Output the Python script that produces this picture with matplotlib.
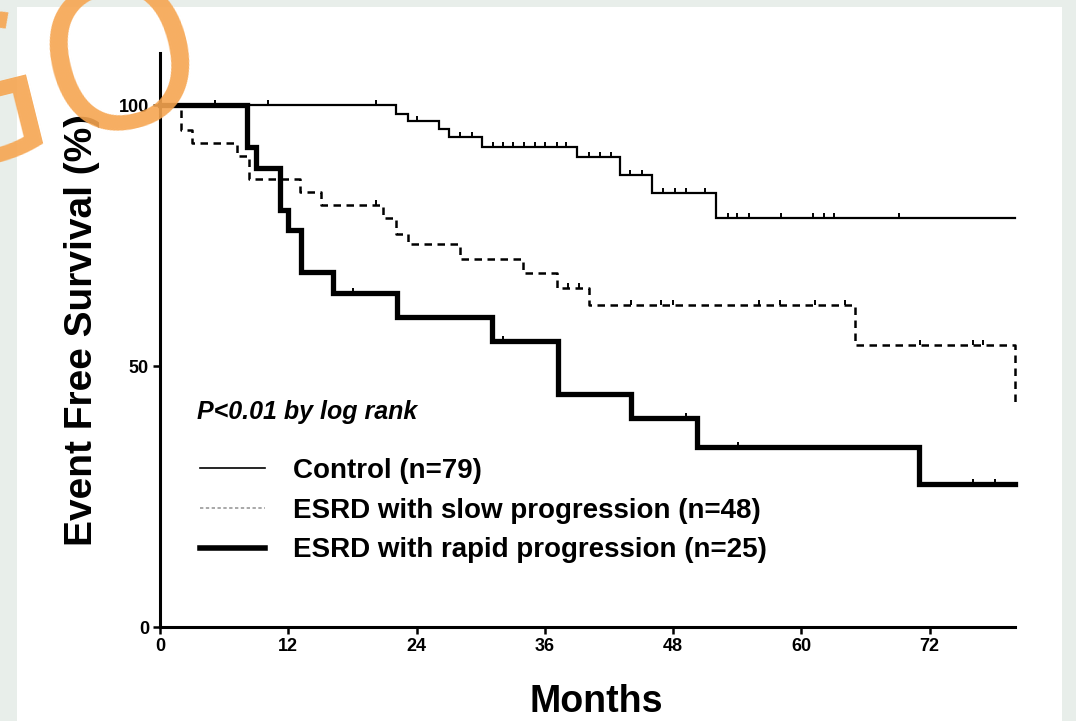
import numpy as np
import matplotlib.pyplot as plt
from matplotlib.lines import Line2D
from matplotlib.patches import Rectangle

# Kaplan-Meier steps (months, % event free)
control_t = [0, 22.1, 23.2, 26.1, 27.0, 30.1, 39.0, 43.0, 46.0, 52.0, 80.0]
control_s = [100, 98.4, 97.0, 95.5, 93.9, 92.0, 90.0, 86.6, 83.1, 78.4, 78.4]
control_cens = [5.1, 10.1, 20.2, 24.0, 28.1, 29.2, 31.2, 32.1, 33.0, 34.1, 35.1,
                36.0, 37.1, 38.0, 40.1, 41.2, 42.2, 44.0, 45.1, 47.1, 48.2, 49.2,
                51.0, 53.1, 54.0, 55.1, 58.1, 61.1, 62.1, 63.1, 69.1]

slow_t = [0, 2.0, 3.0, 7.2, 8.3, 13.1, 15.1, 20.9, 22.1, 23.2, 28.1, 34.0, 37.1, 40.1, 65.0, 80.0]
slow_s = [100, 95.2, 92.7, 90.2, 85.8, 83.4, 80.8, 78.4, 75.4, 73.4, 70.6, 67.8, 64.9, 61.7, 54.0, 42.2]
slow_cens = [20.2, 38.2, 39.2, 44.1, 46.9, 48.0, 56.0, 58.0, 61.3, 64.1, 71.1, 76.1, 77.0]

rapid_t = [0, 8.1, 9.0, 11.2, 12.0, 13.2, 16.2, 22.2, 31.1, 37.2, 44.1, 50.2, 71.0, 80.0]
rapid_s = [100, 92, 88, 80, 76, 68, 64, 59.4, 54.9, 44.6, 40.0, 34.5, 27.5, 27.5]
rapid_cens = [18.1, 32.1, 49.2, 54.1, 76.1, 78.1]

labels = ["Control (n=79)", "ESRD with slow progression (n=48)",
          "ESRD with rapid progression (n=25)"]
xticks = [0, 12, 24, 36, 48, 60, 72]
yticks = [0, 50, 100]

plt.rcParams['font.family'] = ['Liberation Sans', 'DejaVu Sans']

fig = plt.figure(figsize=(10.76, 7.21), dpi=100, facecolor='#e8eeea')
fig.patches.append(Rectangle((17 / 1076, 0), 1045 / 1076, 714 / 721,
                             transform=fig.transFigure, facecolor='white',
                             edgecolor='none', zorder=-1))
ax = fig.add_axes([160 / 1076, 1 - 627 / 721, 855 / 1076, 574 / 721])


def step_at(t, s, x):
    i = np.searchsorted(t, x, side='right') - 1
    return np.array(s)[i]


tick = [(0, 0), (0, 1)]
styles = [
    (control_t, control_s, control_cens, dict(lw=1.6, ls='-')),
    (slow_t, slow_s, slow_cens, dict(lw=1.8, ls=(0, (3, 2.2)))),
    (rapid_t, rapid_s, rapid_cens, dict(lw=3.8, ls='-')),
]
for t, s, c, st in styles:
    ax.plot(t, s, drawstyle='steps-post', color='black', clip_on=False,
            solid_joinstyle='miter', **st)
    ax.plot(c, step_at(t, s, c), ls='none', marker=tick, markersize=7,
            markeredgewidth=1.4, color='black', clip_on=False)

ax.set_xlim(0, 80)
ax.set_ylim(0, 110)
for side in ['top', 'right']:
    ax.spines[side].set_visible(False)
for side in ['left', 'bottom']:
    ax.spines[side].set_linewidth(2.2)
ax.set_xticks(xticks)
ax.set_yticks(yticks)
ax.tick_params(width=1.8, length=5, labelsize=13, pad=3)
for lab in ax.get_xticklabels() + ax.get_yticklabels():
    lab.set_fontweight('bold')

ax.set_ylabel("Event Free Survival (%)", fontsize=28, fontweight='bold')
ax.yaxis.set_label_coords(-0.070, 0.518)
ax.set_xlabel("Months", fontsize=27, fontweight='bold')
ax.xaxis.set_label_coords(0.51, -0.100)

ax.text(0.043, 0.375, "P<0.01 by log rank", transform=ax.transAxes,
        fontsize=18, fontweight='bold', style='italic', va='center')

handles = [Line2D([], [], color='black', lw=1.2),
           Line2D([], [], color='#999999', lw=1.2, ls=(0, (2, 1.5))),
           Line2D([], [], color='black', lw=4)]
ax.legend(handles, labels, loc='upper left', bbox_to_anchor=(0.047, 0.295),
          frameon=False, borderpad=0, borderaxespad=0, handlelength=2.35,
          handletextpad=1.0, labelspacing=0.5,
          prop=dict(size=20, weight='bold'))

fig.text(-0.082, 0.752, "GO", fontsize=150, color='#f6a550', alpha=0.9,
         rotation=14, rotation_mode='anchor', ha='left', va='baseline',
         family=['Open Sans', 'DejaVu Sans'], fontweight='normal', zorder=10)

fig.savefig("out.png", dpi=100, facecolor=fig.get_facecolor())
